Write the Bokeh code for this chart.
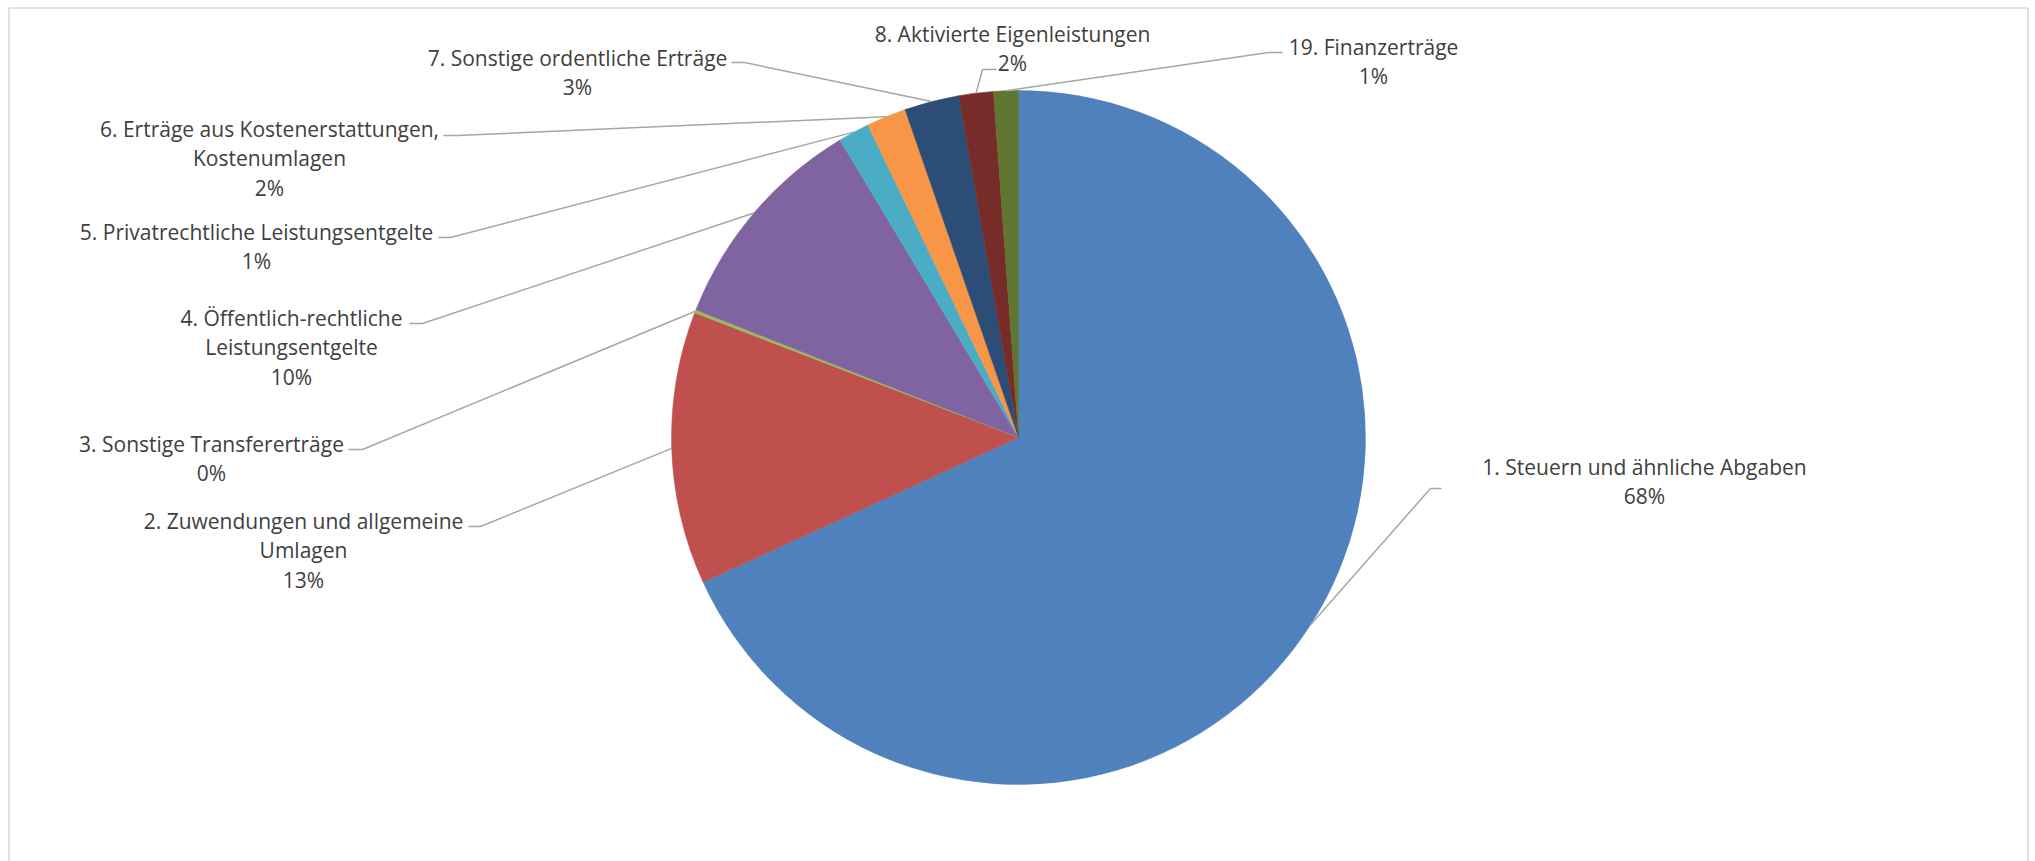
import math
from bokeh.plotting import figure
from bokeh.models import Range1d, ColumnDataSource
from bokeh.core.properties import value
from bokeh.embed import file_html
from bokeh.resources import INLINE

# ---------------- data ----------------
categories = [
    "1. Steuern und ähnliche Abgaben",
    "2. Zuwendungen und allgemeine Umlagen",
    "3. Sonstige Transfererträge",
    "4. Öffentlich-rechtliche Leistungsentgelte",
    "5. Privatrechtliche Leistungsentgelte",
    "6. Erträge aus Kostenerstattungen, Kostenumlagen",
    "7. Sonstige ordentliche Erträge",
    "8. Aktivierte Eigenleistungen",
    "19. Finanzerträge",
]
# share of total income (percent)
shares = [68.15, 12.7, 0.15, 10.4, 1.45, 1.85, 2.55, 1.6, 1.15]
# how each category's label is wrapped in the chart
label_lines = [
    ["1. Steuern und ähnliche Abgaben"],
    ["2. Zuwendungen und allgemeine", "Umlagen"],
    ["3. Sonstige Transfererträge"],
    ["4. Öffentlich-rechtliche", "Leistungsentgelte"],
    ["5. Privatrechtliche Leistungsentgelte"],
    ["6. Erträge aus Kostenerstattungen,", "Kostenumlagen"],
    ["7. Sonstige ordentliche Erträge"],
    ["8. Aktivierte Eigenleistungen"],
    ["19. Finanzerträge"],
]

# ---------------- styles / layout ----------------
colors = ["#4F81BD", "#C0504D", "#9BBB59", "#8064A2", "#4BACC6",
          "#F79646", "#2C4D75", "#772C2A", "#5F7530"]
W, H = 2035, 861
LINE_GAP = 29.5
FONT = "Open Sans"
FONT_SIZE = "21px"
TEXT_COLOR = "#404040"
LEADER_COLOR = "#A6A6A6"
BORDER_COLOR = "#D9D9D9"

# layout in page-pixel coords (x right, y down from top-left)
PIE_CX, PIE_CY, R = 1018, 437, 347
# text centre x, first-line centre y, leader elbow (x, y), leader end x
label_layout = [
    (1644, 466, 1430, 488, 1441),
    (303, 520, 480, 526, 468),
    (211, 443, 362, 449, 348),
    (291, 317, 422, 323, 409),
    (256, 231, 450, 237, 438),
    (269, 128, 457, 135, 443),
    (577, 57, 744, 62, 731),
    (1012, 33, 982, 69, 996),
    (1373, 46, 1268, 52, 1282),
]
border_x = [8.5, 8.5, 2027.5, 2027.5]
border_y = [875, 7.5, 7.5, 875]

def py(y):
    return H - y

CX, CY = PIE_CX, py(PIE_CY)

# ---------------- figure ----------------
p = figure(width=W, height=H, output_backend="svg", toolbar_location=None,
           x_range=Range1d(0, W), y_range=Range1d(0, H),
           min_border=0, min_border_left=0, min_border_right=0,
           min_border_top=0, min_border_bottom=0)
p.axis.visible = False
p.xgrid.visible = False
p.ygrid.visible = False
p.outline_line_color = None
p.background_fill_color = "white"
p.border_fill_color = "white"

# chart-area border (open at the bottom, as in the picture)
p.line(x=border_x, y=[py(v) for v in border_y], line_color=BORDER_COLOR,
       line_width=1.6)

total = sum(shares)
starts, ends, mids = [], [], []
cum = 0.0
for s in shares:
    c0 = cum / total
    cum += s
    c1 = cum / total
    # Excel: start at 12 o'clock, go clockwise
    starts.append(math.radians(90 - 360 * c1))
    ends.append(math.radians(90 - 360 * c0))
    mids.append(math.radians(90 - 360 * (c0 + c1) / 2))

src = ColumnDataSource(dict(x=[CX] * len(shares), y=[CY] * len(shares),
                            start=starts, end=ends, color=colors,
                            cat=categories))
p.wedge(x="x", y="y", radius=R, start_angle="start", end_angle="end",
        direction="anticlock", fill_color="color", line_color="color",
        line_width=0.5, source=src)

# leader lines
lx, ly = [], []
for m, (tx, ty, ex, ey, endx) in zip(mids, label_layout):
    sx = CX + R * math.cos(m)
    sy = CY + R * math.sin(m)
    lx.append([sx, ex, endx])
    ly.append([sy, py(ey), py(ey)])
p.multi_line(xs=lx, ys=ly, line_color=LEADER_COLOR, line_width=1.5)

# labels
tx_all, ty_all, txt_all = [], [], []
for lines, s, (tx, ty, ex, ey, endx) in zip(label_lines, shares, label_layout):
    pct = f"{round(s / total * 100):.0f}%"
    for i, t in enumerate(lines + [pct]):
        tx_all.append(tx)
        ty_all.append(py(ty + i * LINE_GAP))
        txt_all.append(t)
p.text(x=tx_all, y=ty_all, text=txt_all, text_align="center",
       text_baseline="middle", text_font=value(FONT),
       text_font_size=FONT_SIZE, text_color=TEXT_COLOR)

open("out.html", "w").write(file_html(p, INLINE))
